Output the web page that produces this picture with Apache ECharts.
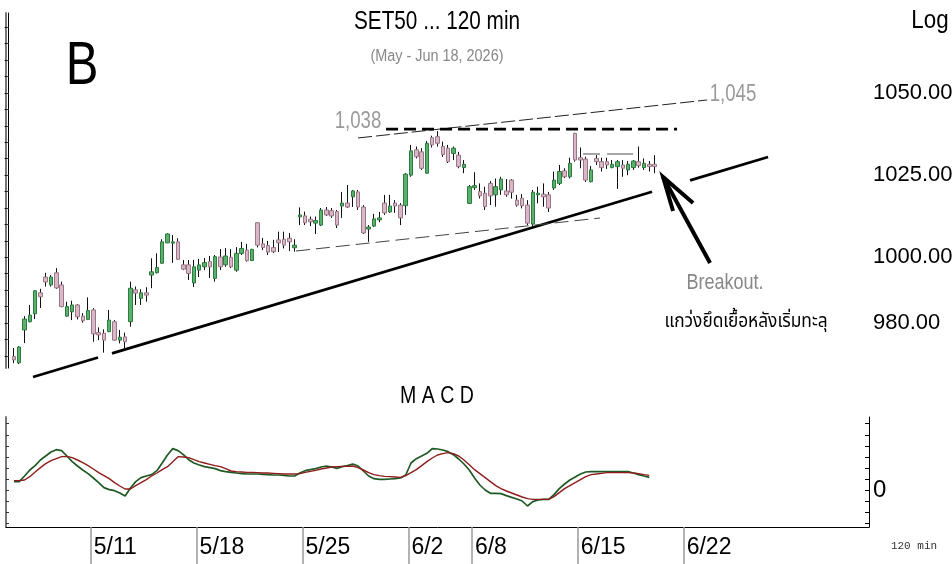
<!DOCTYPE html>
<html><head><meta charset="utf-8">
<script src="https://cdn.jsdelivr.net/npm/echarts@6.0.0/dist/echarts.min.js"></script>
<style>html,body{margin:0;padding:0;background:#fff}#c{width:952px;height:564px}</style>
</head><body><div id="c"></div>
<script>
// ---------- data ----------
const tradingDays = ['5/5','5/6','5/7','5/8','5/11','5/12','5/13','5/14','5/15','5/18','5/19','5/20','5/21','5/22',
  '5/25','5/26','5/27','5/28','5/29','6/2','6/4','6/5','6/8','6/9','6/10','6/11','6/12','6/15','6/16','6/17','6/18',
  '6/19','6/22','6/23','6/24','6/25','6/26','6/29','6/30','7/1','7/2'];
const barsPerDay = 4;
const visibleBars = 163;
const weekLabels = ['5/11','5/18','5/25','6/2','6/8','6/15','6/22'];
const priceLabels = [980, 1000, 1025, 1050];
const priceTicks = [970,975,980,985,990,995,1000,1005,1010,1015,1020,1025,1030,1035,1040,1045,1050,1055,1060,1065,1070];
const macdLabels = [0];
const macdTicks = [-1,-0.667,-0.333,0,0.333,0.667,1,1.333,1.667,2];

const candleOpen = [null,
969.8,967.9,977.9,980.4,982.8,989.2,994.0,991.6,995.3,991.6,
982.1,983.4,985.5,982.1,981.1,984.0,977.1,976.9,977.4,980.4,
974.8,975.8,980.4,990.1,987.5,989.2,994.6,995.3,998.2,1004.4,
1004.3,1004.7,997.7,997.7,992.2,996.1,997.1,998.7,993.6,1000.1,
997.7,1000.0,996.1,1001.2,1002.2,999.0,1010.5,1004.1,1003.6,1003.0,
1005.3,1005.5,1005.8,1002.9,1012.3,1012.6,1011.6,1010.4,1009.8,1014.4,
1014.2,1013.9,1015.6,1016.5,1018.4,1019.9,1015.3,1008.6,1009.5,1011.4,
1016.5,1013.8,1016.5,1015.9,1015.7,1025.0,1032.7,1032.1,1025.6,1036.4,
1036.7,1033.7,1033.2,1031.6,1031.1,1027.3,1016.4,1021.2,1020.0,1019.5,
1022.5,1019.0,1020.5,1020.2,1023.5,1017.4,1018.0,1015.9,1010.1,1019.0,
1019.2,1019.0,1021.1,1022.5,1026.3,1024.5,1037.7,1030.3,1029.9,1023.0,
1030.1,1029.1,1029.1,1027.3,1027.6,1028.1,1026.6,1027.3,1029.1,1027.3,
1028.3,1028.3];
const candleClose = [null,
968.8,972.7,981.2,982.4,989.8,988.0,992.5,994.0,990.7,985.0,
985.0,985.5,981.9,980.7,983.8,976.7,976.4,974.8,980.9,974.8,
975.7,974.3,990.6,989.1,989.2,988.5,995.6,996.9,1004.7,1007.1,
1004.7,999.4,996.4,995.1,997.1,997.7,998.4,997.1,1000.2,997.1,
1000.4,997.1,1001.2,1002.7,999.0,1002.4,1003.7,1003.0,1001.6,1001.7,
1004.4,1003.7,1004.7,1003.7,1012.9,1010.5,1010.8,1011.2,1014.4,1012.9,
1012.6,1009.8,1016.5,1015.3,1020.2,1015.3,1007.4,1009.2,1011.7,1012.0,
1013.5,1015.6,1015.6,1012.0,1025.3,1032.4,1030.6,1027.1,1034.7,1034.2,
1034.7,1031.3,1029.1,1033.2,1027.6,1028.3,1021.5,1021.8,1018.7,1015.4,
1018.7,1021.5,1023.8,1019.0,1019.8,1015.9,1015.7,1010.4,1019.8,1019.5,
1018.4,1015.0,1023.5,1026.1,1024.5,1028.6,1029.6,1029.6,1023.5,1026.6,
1029.1,1027.3,1028.1,1028.3,1029.1,1027.1,1028.3,1029.3,1027.9,1028.6,
1027.6,1027.6];
const candleHigh = [null,
972.4,973.0,982.1,985.5,990.0,990.4,995.3,994.6,996.7,992.6,
986.5,986.8,985.8,983.0,987.8,984.5,978.7,978.1,984.0,980.9,
977.9,977.1,992.6,991.1,990.3,990.9,999.7,1001.2,1005.5,1007.3,
1006.8,1005.8,999.2,999.2,999.2,999.5,999.8,1000.4,1000.7,1002.5,
1002.8,1002.5,1003.1,1004.7,1004.1,1002.6,1010.7,1005.9,1005.0,1005.3,
1007.8,1007.8,1007.4,1005.5,1015.2,1013.9,1012.4,1012.4,1015.0,1015.3,
1015.0,1014.4,1019.9,1022.0,1020.5,1020.5,1015.9,1009.8,1013.2,1013.8,
1019.0,1019.0,1017.4,1016.5,1025.6,1034.2,1033.7,1033.2,1035.4,1037.0,
1038.4,1035.2,1034.2,1033.7,1032.1,1029.6,1022.0,1025.9,1022.5,1021.5,
1023.2,1024.0,1024.5,1023.8,1023.8,1019.0,1019.2,1017.4,1020.5,1021.5,
1022.5,1019.9,1026.1,1028.1,1027.1,1030.3,1037.9,1033.4,1030.6,1027.8,
1031.1,1030.3,1030.3,1029.6,1029.6,1029.6,1029.3,1029.6,1033.7,1030.1,
1029.3,1031.1];
const candleLow = [null,
967.8,967.5,973.9,980.2,981.2,984.6,991.1,991.1,990.4,984.8,
981.9,980.9,981.1,980.1,980.9,974.3,974.8,971.0,977.2,974.6,
973.8,972.3,978.9,985.5,985.5,986.5,990.6,995.1,998.0,1004.3,
998.3,999.2,996.1,993.1,991.0,994.0,996.1,993.7,992.6,996.1,
997.1,996.7,995.6,1000.7,998.7,998.9,1003.0,1002.2,1000.7,1001.3,
1001.6,1002.7,1001.9,1001.7,1009.8,1009.8,1009.5,1007.1,1009.5,1012.6,
1012.0,1008.9,1012.0,1015.0,1015.3,1014.4,1007.1,1004.7,1009.2,1010.7,
1012.9,1013.5,1013.5,1009.8,1012.9,1024.5,1030.1,1026.6,1025.4,1033.4,
1033.7,1030.6,1028.7,1029.6,1027.1,1025.6,1016.2,1020.5,1017.9,1014.4,
1015.9,1015.4,1019.0,1018.4,1017.9,1015.4,1014.9,1009.8,1009.5,1016.4,
1015.4,1013.8,1020.5,1022.0,1024.1,1024.0,1029.1,1027.1,1022.9,1022.8,
1028.1,1026.1,1026.9,1027.1,1020.8,1024.5,1025.0,1026.6,1027.3,1026.6,
1026.1,1025.6];

const macdLine = [null,
0.26,0.26,0.43,0.61,0.74,0.91,1.03,1.15,1.22,1.19,
1.03,0.86,0.73,0.61,0.50,0.37,0.23,0.08,0.02,-0.01,
-0.08,-0.17,0.07,0.26,0.38,0.43,0.47,0.59,0.82,1.06,
1.25,1.19,1.07,0.92,0.82,0.76,0.71,0.68,0.65,0.59,
0.56,0.54,0.52,0.50,0.49,0.49,0.49,0.48,0.47,0.46,
0.46,0.45,0.43,0.43,0.52,0.59,0.62,0.65,0.70,0.73,
0.70,0.66,0.71,0.74,0.79,0.73,0.58,0.43,0.35,0.33,
0.33,0.34,0.35,0.37,0.46,0.82,0.95,1.03,1.11,1.25,
1.24,1.21,1.16,1.07,0.94,0.79,0.61,0.37,0.16,0.01,
-0.09,-0.09,-0.10,-0.16,-0.21,-0.26,-0.32,-0.47,-0.34,-0.29,
-0.27,-0.27,-0.13,0.05,0.19,0.31,0.40,0.49,0.55,0.56,
0.56,0.56,0.56,0.56,0.56,0.56,0.56,0.52,0.47,0.43,
0.39];
const signalLine = [null,
0.29,0.29,0.31,0.41,0.55,0.68,0.80,0.89,0.95,1.01,
1.02,0.98,0.91,0.83,0.74,0.64,0.53,0.44,0.35,0.23,
0.13,0.04,0.04,0.14,0.23,0.32,0.43,0.52,0.62,0.71,
0.86,1.01,1.00,0.98,0.92,0.86,0.82,0.78,0.74,0.71,
0.65,0.58,0.56,0.55,0.54,0.54,0.53,0.52,0.52,0.51,
0.50,0.49,0.49,0.49,0.50,0.54,0.57,0.60,0.64,0.67,
0.70,0.71,0.72,0.72,0.73,0.68,0.61,0.53,0.47,0.44,
0.42,0.41,0.40,0.39,0.44,0.53,0.62,0.74,0.86,0.97,
1.06,1.10,1.13,1.10,1.03,0.91,0.77,0.62,0.50,0.38,
0.26,0.14,0.05,-0.02,-0.08,-0.14,-0.20,-0.25,-0.27,-0.27,
-0.27,-0.27,-0.19,-0.07,0.05,0.14,0.23,0.32,0.41,0.47,
0.49,0.51,0.53,0.53,0.53,0.53,0.53,0.52,0.50,0.47,
0.45];

// drawn trendlines, as [bar index, price]
const supportSegments = [
  [[4.60,963.58],[16.88,969.51]],
  [[19.52,970.77],[121.52,1019.95]],
  [[128.70,1023.41],[143.44,1030.52]]];
const upperChannel = [[65.99,1036.31],[131.92,1047.87]];
const lowerChannel = [[54.28,1001.92],[111.70,1011.96]];
const resistance1038 = [[71.28,1039.0],[126.25,1039.0]];
const minorResistance = [[[108.49,1031.44],[111.70,1031.44]],[[113.03,1031.44],[117.94,1031.44]]];
const arrowShaft = [[123.60,1024.44],[132.48,998.27]];
const arrowHead = [[125.49,1014.09],[123.60,1024.44],[129.27,1016.53]];

// ---------- build ----------
const FONT = "'Liberation Sans',Arial,sans-serif";
const categories = [];
tradingDays.forEach(d => { for (let k = 0; k < barsPerDay; k++) categories.push(d + '|' + k); });
categories.length = visibleBars;
// boundaries (between bars) where each labelled week starts
const weekBoundaries = weekLabels.map(w => categories.indexOf(w + '|0') - 0.5);
const boundaryLabel = (v) => { const j = weekBoundaries.findIndex(b => Math.abs(b - v) < 0.01); return j >= 0 ? weekLabels[j] : ''; };

const wickData = [], bodyData = [];
for (let i = 0; i < candleOpen.length; i++) {
  if (candleOpen[i] == null) continue;
  const o = candleOpen[i], c = candleClose[i];
  wickData.push([i, o, c, candleLow[i], candleHigh[i]]);
  bodyData.push([i, o, c, Math.min(o, c), Math.max(o, c)]);
}
const macdData = macdLine.map((v, i) => [i, v]).filter(d => d[1] != null);
const signalData = signalLine.map((v, i) => [i, v]).filter(d => d[1] != null);

function annot(data, color, width, type, z) {
  return { type: 'line', xAxisIndex: 1, yAxisIndex: 0, data: data, symbol: 'none', showSymbol: false,
    clip: false, silent: true, z: z || 5, lineStyle: { color: color, width: width, type: type || 'solid', cap: 'butt', join: 'miter' } };
}

const series = [
  { type: 'candlestick', xAxisIndex: 0, yAxisIndex: 0, data: wickData, barWidth: 1,
    encode: { x: 0, y: [1, 2, 3, 4] },
    itemStyle: { color: '#111', color0: '#111', borderColor: '#111', borderColor0: '#111', borderWidth: 1 }, z: 3 },
  { type: 'candlestick', xAxisIndex: 0, yAxisIndex: 0, data: bodyData, barWidth: 4,
    encode: { x: 0, y: [1, 2, 3, 4] },
    itemStyle: { color: '#58b26c', color0: '#d8b8c7', borderColor: '#2e7a40', borderColor0: '#9b7686', borderWidth: 1 }, z: 4 },
  { type: 'line', xAxisIndex: 2, yAxisIndex: 2, data: macdData, symbol: 'none', lineStyle: { color: '#1f5a25', width: 1.7 }, z: 3 },
  { type: 'line', xAxisIndex: 2, yAxisIndex: 2, data: signalData, symbol: 'none', lineStyle: { color: '#8e1c1c', width: 1.4 }, z: 4 }
];
supportSegments.forEach(s => series.push(annot(s, '#000', 2.8)));
series.push(annot(upperChannel, '#222', 1, [14, 4]));
series.push(annot(lowerChannel, '#444', 1, [14, 6]));
series.push(annot(resistance1038, '#000', 2.6, [12, 6]));
minorResistance.forEach(s => series.push(annot(s, '#888', 1.5)));
series.push(annot(arrowShaft, '#000', 4));
series.push(annot(arrowHead, '#000', 4));

function txt(x, y, text, size, color, sx, family) {
  return { type: 'text', x: x, y: y, scaleX: sx || 1, silent: true,
    style: { text: text, font: size + 'px ' + (family || FONT), fill: color, align: 'center', verticalAlign: 'middle' } };
}

const gridL = 6, gridR = 83;
const option = {
  animation: false,
  backgroundColor: '#fff',
  textStyle: { fontFamily: FONT },
  grid: [
    { left: gridL, right: gridR, top: 13, height: 355, outerBoundsMode: 'none', containLabel: false },
    { left: gridL, right: gridR, top: 417, height: 110, outerBoundsMode: 'none', containLabel: false }
  ],
  xAxis: [
    { type: 'category', gridIndex: 0, data: categories, boundaryGap: true, show: false },
    { type: 'value', gridIndex: 0, min: -0.5, max: visibleBars - 0.5, show: false },
    { type: 'value', gridIndex: 1, min: -0.5, max: visibleBars - 0.5,
      axisLine: { show: true, onZero: false, lineStyle: { color: '#000', width: 1 } },
      axisTick: { show: true, inside: false, length: 37, customValues: weekBoundaries, lineStyle: { color: '#999', width: 1.5 } },
      axisLabel: { customValues: weekBoundaries, formatter: (v) => boundaryLabel(v), align: 'left', padding: [0, 0, 0, 3], margin: 9,
        fontSize: 23, color: '#000', fontFamily: FONT, showMinLabel: true, showMaxLabel: true },
      splitLine: { show: false } }
  ],
  yAxis: [
    { type: 'value', gridIndex: 0, position: 'right', min: 966.32, max: 1074.34, scale: true,
      axisLine: { show: true, lineStyle: { color: '#000', width: 1 } },
      axisTick: { show: true, inside: true, length: 4, customValues: priceTicks, lineStyle: { color: '#000' } },
      axisLabel: { customValues: priceLabels, formatter: (v) => v.toFixed(2), margin: 4, fontSize: 22, color: '#000', fontFamily: FONT },
      splitLine: { show: false } },
    { type: 'value', gridIndex: 0, position: 'left', min: 966.32, max: 1074.34, scale: true,
      axisLine: { show: true, lineStyle: { color: '#777', width: 2 } },
      axisTick: { show: true, inside: true, length: 3, customValues: priceTicks, lineStyle: { color: '#333' } },
      axisLabel: { show: false }, splitLine: { show: false } },
    { type: 'value', gridIndex: 1, position: 'right', min: -1.1, max: 2.2,
      axisLine: { show: true, onZero: false, lineStyle: { color: '#000', width: 1 } },
      axisTick: { show: true, inside: true, length: 4, customValues: macdTicks, lineStyle: { color: '#000' } },
      axisLabel: { customValues: macdLabels, formatter: (v) => String(Math.round(v)), margin: 4, fontSize: 24, color: '#000', fontFamily: FONT },
      splitLine: { show: false } },
    { type: 'value', gridIndex: 1, position: 'left', min: -1.1, max: 2.2,
      axisLine: { show: true, onZero: false, lineStyle: { color: '#777', width: 2 } },
      axisTick: { show: true, inside: true, length: 3, customValues: macdTicks, lineStyle: { color: '#333' } },
      axisLabel: { show: false }, splitLine: { show: false } }
  ],
  series: series,
  graphic: [
    txt(437, 22, 'SET50 ... 120 min', 25, '#000', 0.83),
    txt(437, 57, '(May - Jun 18, 2026)', 16, '#888', 0.9),
    txt(82, 67, 'B', 62, '#000', 0.79),
    txt(930, 21, 'Log', 26, '#000', 0.86),
    txt(358, 122, '1,038', 23, '#999', 0.81),
    txt(733, 95, '1,045', 23, '#999', 0.81),
    txt(725, 283, 'Breakout.', 22, '#888', 0.82),
    txt(746, 323, 'แกว่งยึดเยื้อหลังเริ่มทะลุ', 19, '#000', 0.91, "'Noto Sans Thai','Noto Sans',sans-serif"),
    txt(437, 397, 'M A C D', 23, '#000', 0.85),
    txt(914, 546, '120 min', 11, '#333', 1, "'Liberation Mono','DejaVu Sans Mono',monospace")
  ]
};
const chart = echarts.init(document.getElementById('c'), null, { renderer: 'canvas' });
chart.setOption(option);
</script>
</body></html>
